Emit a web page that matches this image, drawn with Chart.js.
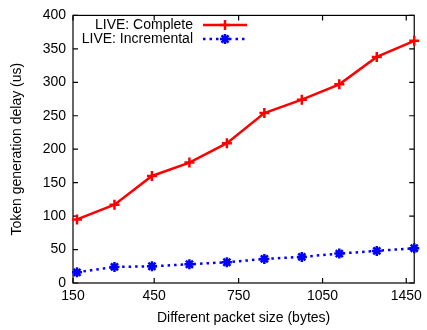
<!DOCTYPE html>
<html>
<head>
<meta charset="utf-8">
<script src="https://cdn.jsdelivr.net/npm/chart.js@4/dist/chart.umd.min.js"></script>
<style>
  html, body { margin: 0; padding: 0; background: #fff; }
  #wrap { width: 427px; height: 330px; }
</style>
</head>
<body>
<div id="wrap"><canvas id="c" width="427" height="330"></canvas></div>
<script>
// values
const packetSizes = [150, 300, 450, 600, 750, 900, 1050, 1200, 1350, 1500];
const completeDelay = [95, 117, 160, 180, 209, 254, 274, 297, 338, 362];
const incrementalDelay = [16, 24, 25, 28, 31, 36, 39, 44, 48, 52];

// x tick marks as gnuplot placed them, and their labels
const xTickValues = [134, 459, 797, 1133, 1468];
const xTickLabels = ['150', '450', '750', '1050', '1450'];

const FONT = "'Liberation Sans', Arial, sans-serif";

function toPoints(ys) {
    return packetSizes.map((x, i) => ({ x: x, y: ys[i] }));
}

function drawMarker(ctx, style, x, y, r) {
    ctx.beginPath();
    ctx.moveTo(x - r, y); ctx.lineTo(x + r, y);
    ctx.moveTo(x, y - r); ctx.lineTo(x, y + r);
    if (style === 'star') {
        const d = r * Math.SQRT1_2;
        ctx.moveTo(x - d, y - d); ctx.lineTo(x + d, y + d);
        ctx.moveTo(x - d, y + d); ctx.lineTo(x + d, y - d);
    }
    ctx.stroke();
}

// border with inward ticks on all four sides
const frame = {
    id: 'frame',
    beforeDatasetsDraw(chart) {
        const { ctx, chartArea: a, scales: { x, y } } = chart;
        const t = 5;
        ctx.save();
        ctx.strokeStyle = '#000';
        ctx.lineWidth = 1.2;
        ctx.beginPath();
        xTickValues.forEach(v => {
            const px = x.getPixelForValue(v);
            ctx.moveTo(px, a.bottom); ctx.lineTo(px, a.bottom - t);
            ctx.moveTo(px, a.top); ctx.lineTo(px, a.top + t);
        });
        y.ticks.forEach(tk => {
            const py = y.getPixelForValue(tk.value);
            ctx.moveTo(a.left, py); ctx.lineTo(a.left + t, py);
            ctx.moveTo(a.right, py); ctx.lineTo(a.right - t, py);
        });
        ctx.stroke();
        ctx.strokeRect(a.left, a.top, a.right - a.left, a.bottom - a.top);
        ctx.restore();
    }
};

// gnuplot style key: text first, then sample line with marker
const key = {
    id: 'key',
    afterDatasetsDraw(chart) {
        const { ctx } = chart;
        const textRight = 193;
        const x0 = 203, x1 = 247;
        const rows = [25, 39];
        ctx.save();
        ctx.font = '14px ' + FONT;
        ctx.textAlign = 'right';
        ctx.textBaseline = 'middle';
        chart.data.datasets.forEach((ds, i) => {
            const yy = rows[i];
            ctx.fillStyle = '#000';
            ctx.fillText(ds.label, textRight, yy);
            ctx.strokeStyle = ds.borderColor;
            ctx.lineWidth = ds.borderWidth;
            ctx.setLineDash(ds.borderDash || []);
            ctx.beginPath();
            ctx.moveTo(x0, yy); ctx.lineTo(x1, yy);
            ctx.stroke();
            ctx.setLineDash([]);
            ctx.lineWidth = ds.pointBorderWidth;
            drawMarker(ctx, ds.pointStyle, (x0 + x1) / 2, yy, ds.pointRadius);
        });
        ctx.restore();
    }
};

new Chart(document.getElementById('c'), {
    type: 'line',
    data: {
        datasets: [{
            label: 'LIVE: Complete',
            data: toPoints(completeDelay),
            borderColor: '#ff0000',
            borderWidth: 2.5,
            pointStyle: 'cross',
            pointRadius: 5,
            pointBorderWidth: 2.5,
            pointBorderColor: '#ff0000',
            pointBackgroundColor: '#ff0000',
            clip: false
        }, {
            label: 'LIVE: Incremental',
            data: toPoints(incrementalDelay),
            borderColor: '#0000ff',
            borderWidth: 2.5,
            borderDash: [2.5, 4],
            pointStyle: 'star',
            pointRadius: 5,
            pointBorderWidth: 2.5,
            pointBorderColor: '#0000ff',
            pointBackgroundColor: '#0000ff',
            clip: false
        }]
    },
    options: {
        responsive: false,
        animation: false,
        layout: { padding: { top: 11, right: 8, left: 0, bottom: 0 } },
        plugins: {
            legend: { display: false },
            tooltip: { enabled: false }
        },
        scales: {
            x: {
                type: 'linear',
                min: 134,
                max: 1500,
                grid: { display: false, drawTicks: false },
                border: { display: false },
                afterFit(scale) { scale.height = 47; },
                afterBuildTicks(scale) {
                    scale.ticks = xTickValues.map(v => ({ value: v }));
                },
                ticks: {
                    autoSkip: false,
                    maxRotation: 0,
                    padding: 5,
                    color: '#000',
                    font: { family: FONT, size: 14 },
                    callback: (v, i) => xTickLabels[i]
                },
                title: {
                    display: true,
                    text: 'Different packet size (bytes)',
                    color: '#000',
                    font: { family: FONT, size: 14 },
                    padding: { top: 0, bottom: 3.5 }
                }
            },
            y: {
                min: 0,
                max: 400,
                grid: { display: false, drawTicks: false },
                border: { display: false },
                afterFit(scale) { scale.width = 73; },
                ticks: {
                    stepSize: 50,
                    padding: 7,
                    color: '#000',
                    font: { family: FONT, size: 14 }
                },
                title: {
                    display: true,
                    text: 'Token generation delay (us)',
                    color: '#000',
                    font: { family: FONT, size: 14 },
                    padding: { top: 8.5, bottom: 0 }
                }
            }
        }
    },
    plugins: [frame, key]
});
</script>
</body>
</html>
